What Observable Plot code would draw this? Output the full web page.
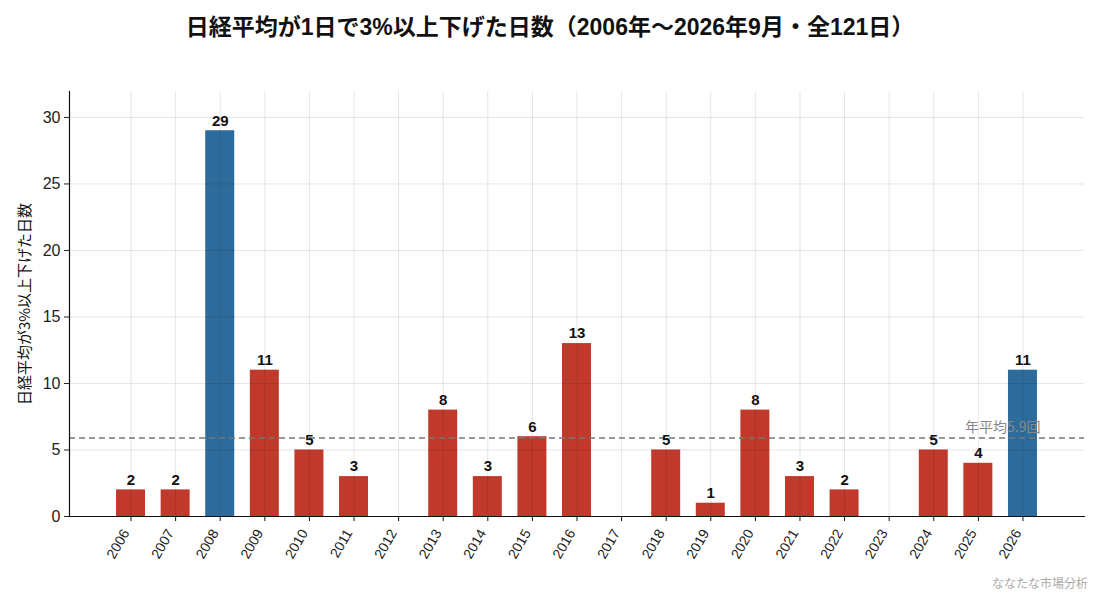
<!DOCTYPE html>
<html><head><meta charset="utf-8">
<script src="https://cdn.jsdelivr.net/npm/d3@7"></script>
<script src="https://cdn.jsdelivr.net/npm/@observablehq/plot@0.6"></script>
<style>
body{margin:0;background:#fff;font-family:"Liberation Sans","Noto Sans CJK JP",sans-serif;}
#wrap{position:relative;width:1100px;height:594px;}
#title{position:absolute;left:0;top:8px;width:1100px;text-align:center;font-size:23px;font-weight:bold;color:#111;font-family:"Liberation Sans","Noto Sans CJK JP",sans-serif;}
#chart{position:absolute;left:0;top:50px;}
#caption{position:absolute;right:12px;top:574px;font-size:12px;color:#aaa;font-family:"Noto Sans CJK JP",sans-serif;}
</style></head><body>
<div id="wrap">
<div id="title">日経平均が1日で3%以上下げた日数（2006年〜2026年9月・全121日）</div>
<div id="chart"></div>
<div id="caption">ななたな市場分析</div>
</div>
<script>
const years = ["2006","2007","2008","2009","2010","2011","2012","2013","2014","2015","2016","2017","2018","2019","2020","2021","2022","2023","2024","2025","2026"];
const counts = [2,2,29,11,5,3,0,8,3,6,13,0,5,1,8,3,2,0,5,4,11];
const highlightYears = ["2008","2026"];
const average = 5.9;
const averageLabel = "年平均5.9回";
const yTicks = [0,5,10,15,20,25,30];

const data = years.map((y,i)=>({year:y, count:counts[i], hl: highlightYears.includes(y)}));
const font = '"Liberation Sans","Noto Sans CJK JP",sans-serif';

const plot = Plot.plot({
  width:1100, height:544,
  marginLeft:69, marginRight:16, marginTop:41, marginBottom:78,
  style:{fontFamily:font, fontSize:"13px", color:"#222", background:"#fff"},
  x:{type:"band", domain:years, paddingInner:0.35, paddingOuter:1.055, round:false, label:null},
  y:{domain:[0,31.95], label:null},
  marks:[
    Plot.barY(data,{x:"year", y:"count", fill:d=>d.hl?"#2d6b9c":"#c0392b"}),
    Plot.gridY(yTicks,{stroke:"#000", strokeOpacity:0.1}),
    Plot.gridX(years,{stroke:"#000", strokeOpacity:0.1}),
    Plot.ruleY([average],{stroke:"#777", strokeWidth:1.5, strokeDasharray:"6,4"}),
    Plot.text([averageLabel],{frameAnchor:"right", y:[average], text:d=>d, dx:-44, dy:-11, textAnchor:"end", fill:"#888", fontSize:14, fontFamily:'"Noto Sans CJK JP",sans-serif'}),
    Plot.text(data.filter(d=>d.count>0),{x:"year", y:"count", text:d=>String(d.count), dy:-10, fontWeight:"bold", fontSize:15, fill:"#111"}),
    Plot.axisY({ticks:yTicks, tickSize:5, fontSize:16, tickPadding:4, label:null}),
    Plot.axisX({tickSize:5, text:null, label:null, stroke:"#111"}),
    Plot.axisX({tickSize:0, tickRotate:-60, fontSize:14, tickPadding:14, dx:-5, label:null}),
    Plot.frame({anchor:"bottom", stroke:"#111", strokeWidth:1.2}),
    Plot.frame({anchor:"left", stroke:"#111", strokeWidth:1.2}),
    Plot.text(["日経平均が3%以上下げた日数"],{frameAnchor:"left", dx:-44, rotate:-90, textAnchor:"middle", text:d=>d, fontSize:15, fill:"#111", fontFamily:'"Noto Sans CJK JP",sans-serif'})
  ]
});
document.getElementById("chart").appendChild(plot);
</script>
</body></html>
